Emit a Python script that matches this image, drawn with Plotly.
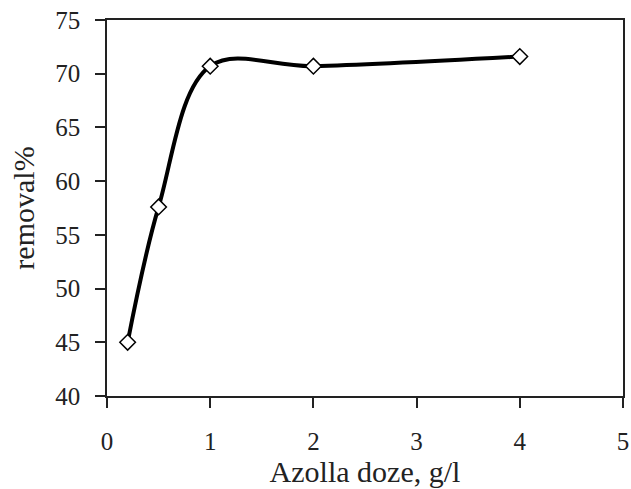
import plotly.graph_objects as go

doses = [0.2, 0.5, 1, 2, 4]
removal = [45.0, 57.6, 70.7, 70.7, 71.6]
x_ticks = [0, 1, 2, 3, 4, 5]
y_ticks = [40, 45, 50, 55, 60, 65, 70, 75]

font_family = "Liberation Serif, Times New Roman, serif"

fig = go.Figure()
fig.add_trace(go.Scatter(
    x=doses, y=removal, mode="lines+markers",
    line=dict(color="black", width=4, shape="spline", smoothing=1.0),
    marker=dict(symbol="diamond", size=12, color="white",
                line=dict(color="black", width=1.5)),
    showlegend=False,
))

fig.update_layout(
    width=631, height=489,
    margin=dict(l=107, r=2, t=20, b=93),
    paper_bgcolor="white", plot_bgcolor="white",
    font=dict(family=font_family, size=25, color="#222"),
    xaxis=dict(
        range=[0, 5], tickvals=x_ticks, ticks="outside", ticklen=10,
        tickwidth=1.5, tickcolor="#222", showline=True, linecolor="#222",
        linewidth=1.5, mirror=True, showgrid=False, zeroline=False,
        title=dict(text="Azolla doze, g/l", standoff=2),
        ticklabelstandoff=12, ticklabeloverflow="allow",
    ),
    yaxis=dict(
        range=[40, 75], tickvals=y_ticks, ticks="outside", ticklen=10,
        tickwidth=1.5, tickcolor="#222", showline=True, linecolor="#222",
        linewidth=1.5, mirror=True, showgrid=False, zeroline=False,
        title=dict(text="removal%", standoff=12),
        ticklabelstandoff=10,
    ),
)

fig.write_html("out.html")
